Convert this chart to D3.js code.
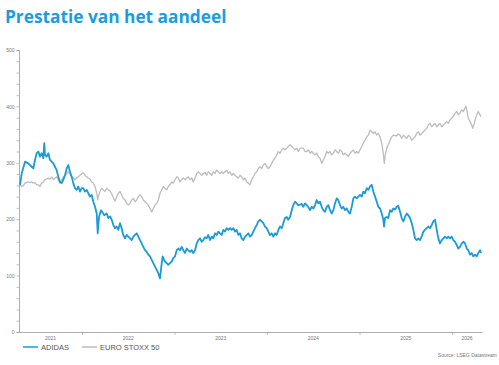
<!DOCTYPE html>
<html>
<head>
<meta charset="utf-8">
<script src="https://cdn.jsdelivr.net/npm/d3@7"></script>
<style>
  body { margin: 0; background: #fff; }
  svg { display: block; font-family: "Liberation Sans", Arial, sans-serif; }
</style>
</head>
<body>
<div id="chart"></div>
<script>
// data: [decimal year, value]
let adidas = [
  [2021.330,261],[2021.348,281],[2021.384,302],[2021.419,299],[2021.456,293],[2021.474,290],[2021.492,305],
  [2021.510,317],[2021.528,320],[2021.546,311],[2021.564,317],[2021.582,308],[2021.592,335],[2021.600,314],
  [2021.618,311],[2021.636,317],[2021.654,305],[2021.672,302],[2021.690,299],[2021.708,293],[2021.726,287],
  [2021.744,275],[2021.762,266],[2021.781,264],[2021.798,270],[2021.816,278],[2021.835,290],[2021.852,296],
  [2021.870,284],[2021.889,275],[2021.906,264],[2021.924,255],[2021.943,252],[2021.960,258],[2021.978,249],
  [2021.997,255],[2022.014,255],[2022.032,249],[2022.051,252],[2022.068,246],[2022.086,240],[2022.105,243],
  [2022.122,231],[2022.141,222],[2022.159,210],[2022.170,175],[2022.184,204],[2022.205,216],[2022.219,213],
  [2022.241,207],[2022.267,210],[2022.284,202],[2022.303,205],[2022.321,199],[2022.338,190],[2022.357,184],
  [2022.375,187],[2022.392,181],[2022.411,193],[2022.429,184],[2022.446,172],[2022.465,166],[2022.483,172],
  [2022.501,169],[2022.519,166],[2022.537,163],[2022.555,169],[2022.573,172],[2022.591,175],[2022.609,169],
  [2022.627,163],[2022.645,157],[2022.663,151],[2022.681,145],[2022.699,142],[2022.717,137],[2022.735,134],
  [2022.754,128],[2022.771,122],[2022.789,116],[2022.808,110],[2022.825,104],[2022.843,95],[2022.862,122],
  [2022.872,134],[2022.886,128],[2022.897,125],[2022.916,122],[2022.933,119],[2022.951,122],[2022.970,125],
  [2022.987,131],[2023.005,134],[2023.024,145],[2023.041,148],[2023.059,145],[2023.078,151],[2023.095,145],
  [2023.114,140],[2023.132,148],[2023.149,145],[2023.168,142],[2023.186,145],[2023.203,140],[2023.222,145],
  [2023.240,157],[2023.257,163],[2023.276,166],[2023.294,160],[2023.311,163],[2023.330,168],[2023.348,166],
  [2023.365,172],[2023.384,163],[2023.402,169],[2023.419,166],[2023.438,175],[2023.456,172],[2023.474,178],
  [2023.492,175],[2023.510,172],[2023.528,181],[2023.546,178],[2023.564,184],[2023.582,181],[2023.600,184],
  [2023.618,181],[2023.636,184],[2023.654,178],[2023.672,181],[2023.690,172],[2023.708,175],[2023.726,166],
  [2023.744,163],[2023.762,169],[2023.781,172],[2023.798,175],[2023.816,169],[2023.835,172],[2023.852,178],
  [2023.870,184],[2023.889,190],[2023.906,196],[2023.924,199],[2023.943,196],[2023.960,193],[2023.978,187],
  [2023.997,184],[2024.014,178],[2024.032,172],[2024.051,175],[2024.068,169],[2024.086,175],[2024.105,172],
  [2024.122,181],[2024.141,187],[2024.159,184],[2024.176,193],[2024.195,202],[2024.213,204],[2024.230,199],
  [2024.249,204],[2024.267,216],[2024.284,225],[2024.303,231],[2024.321,228],[2024.338,225],[2024.357,226],
  [2024.375,227],[2024.392,222],[2024.411,228],[2024.429,225],[2024.446,222],[2024.465,216],[2024.483,222],
  [2024.501,219],[2024.519,225],[2024.537,234],[2024.555,228],[2024.573,231],[2024.591,222],[2024.609,216],
  [2024.627,213],[2024.645,222],[2024.663,225],[2024.681,216],[2024.699,210],[2024.717,216],[2024.735,228],
  [2024.754,237],[2024.771,234],[2024.789,225],[2024.808,219],[2024.825,222],[2024.843,216],[2024.862,219],
  [2024.879,213],[2024.897,210],[2024.916,222],[2024.933,237],[2024.951,240],[2024.970,237],[2024.987,240],
  [2025.005,243],[2025.024,240],[2025.041,249],[2025.059,246],[2025.078,255],[2025.095,252],[2025.114,258],
  [2025.132,261],[2025.149,249],[2025.168,240],[2025.186,231],[2025.203,222],[2025.222,219],[2025.240,210],
  [2025.257,199],[2025.265,187],[2025.276,202],[2025.294,204],[2025.311,202],[2025.330,216],[2025.348,213],
  [2025.365,219],[2025.384,217],[2025.402,222],[2025.419,224],[2025.438,213],[2025.456,202],[2025.474,196],
  [2025.492,204],[2025.510,210],[2025.528,207],[2025.546,202],[2025.564,193],[2025.582,181],[2025.600,166],
  [2025.618,163],[2025.636,166],[2025.654,163],[2025.672,169],[2025.690,178],[2025.708,181],[2025.726,184],
  [2025.744,187],[2025.762,184],[2025.781,190],[2025.798,196],[2025.816,199],[2025.835,181],[2025.852,166],
  [2025.870,157],[2025.889,163],[2025.906,166],[2025.924,169],[2025.943,166],[2025.960,169],[2025.978,166],
  [2025.997,169],[2026.014,163],[2026.032,160],[2026.051,154],[2026.068,148],[2026.086,151],[2026.105,157],
  [2026.122,160],[2026.141,157],[2026.159,148],[2026.176,145],[2026.195,137],[2026.213,140],[2026.230,134],
  [2026.249,137],[2026.267,134],[2026.284,140],[2026.303,145],[2026.314,140]
]

let stoxx = [
  [2021.330,261],[2021.348,258],[2021.365,259],[2021.384,264],[2021.402,265],[2021.419,266],[2021.438,265],
  [2021.456,266],[2021.474,264],[2021.492,265],[2021.510,261],[2021.528,261],[2021.546,258],[2021.564,264],
  [2021.582,266],[2021.600,270],[2021.618,271],[2021.636,273],[2021.654,271],[2021.672,275],[2021.690,270],
  [2021.708,273],[2021.726,275],[2021.744,270],[2021.762,264],[2021.781,270],[2021.798,275],[2021.816,278],
  [2021.835,281],[2021.852,284],[2021.870,281],[2021.889,275],[2021.906,273],[2021.924,270],[2021.943,273],
  [2021.960,275],[2021.978,278],[2021.997,281],[2022.014,282],[2022.032,278],[2022.051,275],[2022.068,273],
  [2022.086,271],[2022.105,266],[2022.122,264],[2022.141,258],[2022.159,246],[2022.170,234],[2022.176,240],
  [2022.195,249],[2022.213,255],[2022.230,252],[2022.249,249],[2022.267,255],[2022.284,252],[2022.303,250],
  [2022.321,245],[2022.338,238],[2022.357,232],[2022.375,240],[2022.392,246],[2022.411,249],[2022.429,243],
  [2022.446,237],[2022.465,234],[2022.483,228],[2022.501,225],[2022.519,228],[2022.537,234],[2022.555,237],
  [2022.573,231],[2022.591,234],[2022.609,240],[2022.627,243],[2022.645,240],[2022.663,234],[2022.681,231],
  [2022.699,228],[2022.717,225],[2022.735,219],[2022.754,213],[2022.771,219],[2022.789,225],[2022.808,228],
  [2022.825,234],[2022.843,246],[2022.862,252],[2022.879,258],[2022.897,255],[2022.916,252],[2022.933,258],
  [2022.951,261],[2022.970,266],[2022.987,264],[2023.005,270],[2023.024,275],[2023.041,273],[2023.059,266],
  [2023.078,270],[2023.095,273],[2023.114,270],[2023.132,273],[2023.149,275],[2023.168,270],[2023.186,273],
  [2023.203,266],[2023.222,273],[2023.240,281],[2023.257,284],[2023.276,281],[2023.294,278],[2023.311,281],
  [2023.330,283],[2023.348,278],[2023.365,284],[2023.384,281],[2023.402,278],[2023.419,284],[2023.438,281],
  [2023.456,287],[2023.474,284],[2023.492,281],[2023.510,284],[2023.528,281],[2023.546,284],[2023.564,287],
  [2023.582,281],[2023.600,284],[2023.618,278],[2023.636,281],[2023.654,278],[2023.672,275],[2023.690,273],
  [2023.708,278],[2023.726,275],[2023.744,270],[2023.762,273],[2023.781,266],[2023.798,264],[2023.816,261],
  [2023.835,270],[2023.852,275],[2023.870,281],[2023.889,284],[2023.906,290],[2023.924,293],[2023.943,290],
  [2023.960,296],[2023.978,299],[2023.997,293],[2024.014,290],[2024.032,293],[2024.051,299],[2024.068,305],
  [2024.086,308],[2024.105,314],[2024.122,320],[2024.141,317],[2024.159,323],[2024.176,326],[2024.195,323],
  [2024.213,326],[2024.230,329],[2024.249,332],[2024.267,329],[2024.284,326],[2024.303,323],[2024.321,326],
  [2024.338,320],[2024.357,326],[2024.375,326],[2024.392,326],[2024.411,320],[2024.429,320],[2024.446,323],
  [2024.465,317],[2024.483,320],[2024.501,317],[2024.519,314],[2024.537,317],[2024.555,311],[2024.573,308],
  [2024.591,299],[2024.609,305],[2024.627,311],[2024.645,320],[2024.663,317],[2024.681,320],[2024.699,314],
  [2024.717,317],[2024.735,323],[2024.754,320],[2024.771,317],[2024.789,323],[2024.808,320],[2024.825,314],
  [2024.843,317],[2024.862,314],[2024.879,311],[2024.897,317],[2024.916,320],[2024.933,323],[2024.951,317],
  [2024.970,320],[2024.987,317],[2025.005,323],[2025.024,329],[2025.041,335],[2025.059,340],[2025.078,346],
  [2025.095,349],[2025.114,358],[2025.132,355],[2025.149,352],[2025.168,355],[2025.186,349],[2025.203,352],
  [2025.222,346],[2025.240,335],[2025.257,317],[2025.268,299],[2025.278,314],[2025.294,326],[2025.311,332],
  [2025.330,340],[2025.348,346],[2025.365,349],[2025.384,348],[2025.402,348],[2025.419,351],[2025.438,349],
  [2025.456,343],[2025.474,349],[2025.492,346],[2025.510,343],[2025.528,349],[2025.546,346],[2025.564,340],
  [2025.582,343],[2025.600,346],[2025.618,352],[2025.636,355],[2025.654,349],[2025.672,352],[2025.690,355],
  [2025.708,358],[2025.726,361],[2025.744,367],[2025.762,370],[2025.781,364],[2025.798,367],[2025.816,370],
  [2025.835,364],[2025.852,367],[2025.870,370],[2025.889,364],[2025.906,367],[2025.924,370],[2025.943,373],
  [2025.960,370],[2025.978,376],[2025.997,379],[2026.014,382],[2026.032,388],[2026.051,391],[2026.068,385],
  [2026.086,388],[2026.105,394],[2026.122,391],[2026.141,397],[2026.151,400],[2026.159,394],[2026.176,379],
  [2026.195,373],[2026.213,367],[2026.224,361],[2026.241,370],[2026.249,376],[2026.267,385],[2026.284,391],
  [2026.303,385],[2026.314,382]
]

let years = [2021, 2022, 2023, 2024, 2025, 2026]
let yTicks = [0, 100, 200, 300, 400, 500]
let seriesNames = ['ADIDAS', 'EURO STOXX 50']

let W = 499, H = 365
let margin = {top: 50, right: 17, bottom: 33, left: 19}

let svg = d3.select('div#chart')
  .append('svg')
    .attr('width', W)
    .attr('height', H)

let x = d3.scaleLinear()
  .domain([2021.319, 2026.324])
  .range([margin.left, W - margin.right])

let y = d3.scaleLinear()
  .domain([0, 500])
  .range([H - margin.bottom, margin.top])

// title
svg.append('text')
  .attr('x', 5)
  .attr('y', 23)
  .attr('fill', '#1a9de0')
  .attr('font-family', '"Open Sans", "Noto Sans", sans-serif')
  .attr('font-size', 17.3)
  .attr('font-weight', 700)
  .text('Prestatie van het aandeel')

// y axis, minor ticks every 20
let yAxis = svg.append('g')
  .attr('transform', `translate(${margin.left},0)`)
  .call(d3.axisLeft(y)
    .tickValues(d3.range(0, 501, 20))
    .tickSize(2.5)
    .tickPadding(2)
    .tickFormat(d => yTicks.includes(d) ? d : ''))
yAxis.select('.domain').attr('stroke', '#9a9a9a').attr('stroke-width', 0.8)
yAxis.selectAll('.tick line').attr('stroke', '#9a9a9a').attr('stroke-width', 0.6)
yAxis.selectAll('.tick text').attr('fill', '#777').attr('font-size', 5)

// x axis, ticks at year boundaries
let dom = x.domain()
let xAxis = svg.append('g')
  .attr('transform', `translate(0,${H - margin.bottom})`)
  .call(d3.axisBottom(x)
    .tickValues(years.filter(d => d > dom[0]))
    .tickSize(3)
    .tickSizeOuter(0)
    .tickFormat(''))
xAxis.select('.domain').attr('stroke', '#9a9a9a').attr('stroke-width', 0.8)
xAxis.selectAll('.tick line').attr('stroke', '#9a9a9a').attr('stroke-width', 0.6)

xAxis.selectAll('text.yr')
  .data(years)
  .enter().append('text')
  .attr('class', 'yr')
  .attr('x', d => (x(Math.max(d, dom[0])) + x(Math.min(d + 1, dom[1]))) / 2)
  .attr('y', 8)
  .attr('text-anchor', 'middle')
  .attr('fill', '#777')
  .attr('font-size', 5)
  .text(d => d)

// lines
let line = d3.line()
  .x(d => x(d[0]))
  .y(d => y(d[1]))

svg.append('path')
  .datum(stoxx)
  .attr('fill', 'none')
  .attr('stroke', '#bdbdbd')
  .attr('stroke-width', 1.3)
  .attr('stroke-linejoin', 'round')
  .attr('d', line)

svg.append('path')
  .datum(adidas)
  .attr('fill', 'none')
  .attr('stroke', '#1a9ad8')
  .attr('stroke-width', 1.8)
  .attr('stroke-linejoin', 'round')
  .attr('d', line)

// legend
let legend = svg.append('g')
  .attr('transform', 'translate(0,347)')
let colors = ['#1a9ad8', '#bdbdbd']
let legX = [23, 82]

legend.selectAll('line')
  .data(seriesNames)
  .enter().append('line')
  .attr('x1', (d, i) => legX[i])
  .attr('x2', (d, i) => legX[i] + 15)
  .attr('stroke', (d, i) => colors[i])
  .attr('stroke-width', 1.5)

legend.selectAll('text')
  .data(seriesNames)
  .enter().append('text')
  .attr('x', (d, i) => legX[i] + 18)
  .attr('y', 2.6)
  .attr('fill', '#555')
  .attr('font-size', 7.5)
  .text(d => d)

svg.append('text')
  .attr('x', 497)
  .attr('y', 357)
  .attr('text-anchor', 'end')
  .attr('fill', '#777')
  .attr('font-size', 5)
  .text('Source: LSEG Datastream')
</script>
</body>
</html>
